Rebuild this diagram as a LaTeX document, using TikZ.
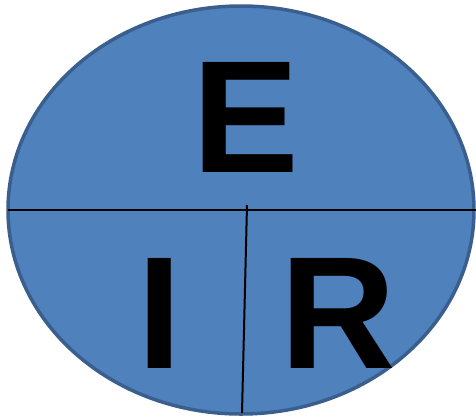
\documentclass[tikz,border=0pt]{standalone}
\usepackage{fontspec}
\setmainfont{Liberation Sans}
\usepackage{xcolor}
\definecolor{ovalfill}{HTML}{4F81BD}
\definecolor{ovaledge}{HTML}{3A5F8E}

\begin{document}
\begin{tikzpicture}[x=1pt, y=-1pt,
  letter/.style={font=\fontsize{160}{160}\selectfont\bfseries, inner sep=0pt, anchor=base}]
  \useasboundingbox (0,0) rectangle (476,418);
  % the oval
  \draw[line width=3.5pt, draw=ovaledge, fill=ovalfill] (241,210) ellipse [x radius=233, y radius=204];
  % dividing lines
  \coordinate (left) at (8,210);
  \coordinate (right) at (476,210);
  \coordinate (top) at (247,205);
  \coordinate (bottom) at (242,413);
  \draw[line width=2pt] (left) -- (right);
  \draw[line width=2pt] (top) -- (bottom);
  % letters
  \node[letter] (E) at (246,172) {E};
  \node[letter] (I) at (159.5,368) {I};
  \node[letter] (R) at (338,368) {R};
\end{tikzpicture}
\end{document}
